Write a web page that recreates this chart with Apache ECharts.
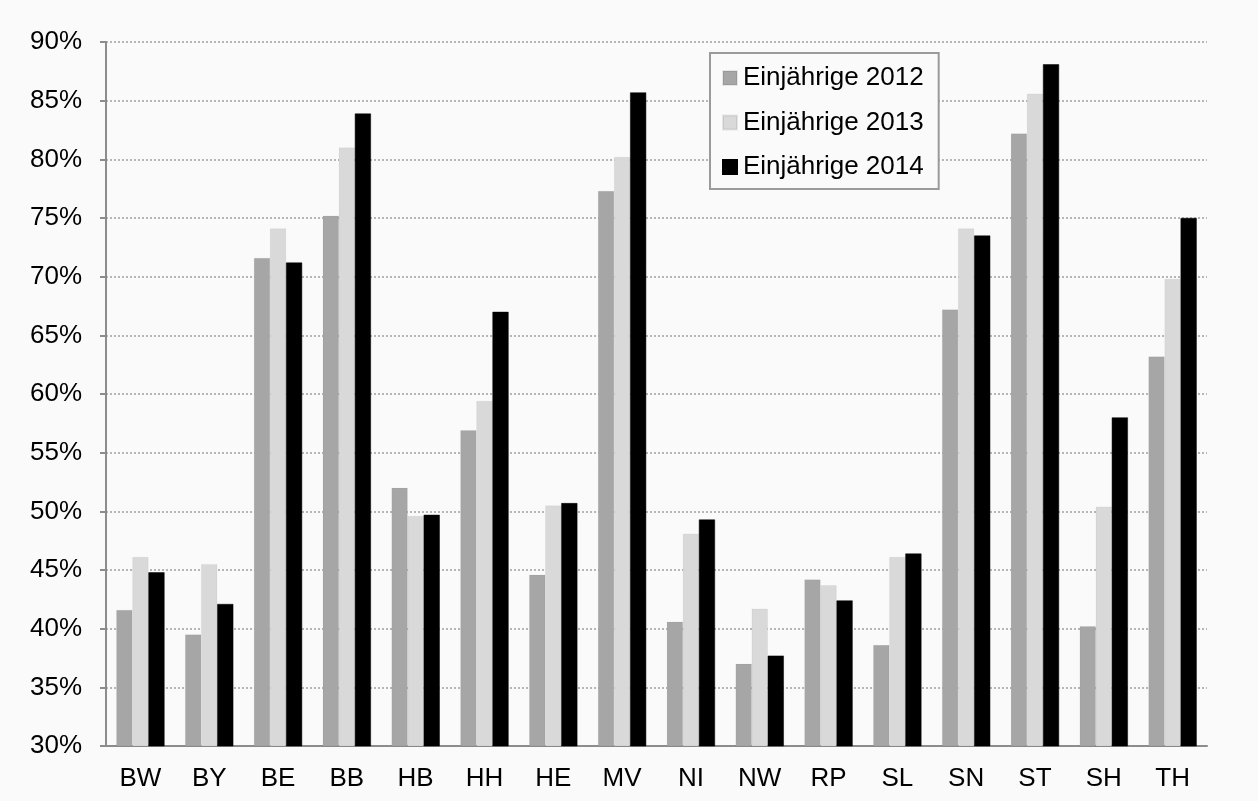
<!DOCTYPE html>
<html>
<head>
<meta charset="utf-8">
<script src="https://cdn.jsdelivr.net/npm/echarts@6/dist/echarts.min.js"></script>
<style>
  html, body { margin: 0; padding: 0; background: #fafafa; }
  #chart { width: 1258px; height: 801px; }
</style>
</head>
<body>
<div id="chart"></div>
<script>
// Bundesländer (Kürzel)
const categories = ['BW', 'BY', 'BE', 'BB', 'HB', 'HH', 'HE', 'MV', 'NI', 'NW', 'RP', 'SL', 'SN', 'ST', 'SH', 'TH'];

// Anteil Einjährige in Prozent
const einj2012 = [41.6, 39.5, 71.6, 75.2, 52.0, 56.9, 44.6, 77.3, 40.6, 37.0, 44.2, 38.6, 67.2, 82.2, 40.2, 63.2];
const einj2013 = [46.1, 45.5, 74.1, 81.0, 49.6, 59.4, 50.5, 80.2, 48.1, 41.7, 43.7, 46.1, 74.1, 85.6, 50.4, 69.8];
const einj2014 = [44.8, 42.1, 71.2, 83.9, 49.7, 67.0, 50.7, 85.7, 49.3, 37.7, 42.4, 46.4, 73.5, 88.1, 58.0, 75.0];

const seriesNames = ['Einjährige 2012', 'Einjährige 2013', 'Einjährige 2014'];
const yTicks = { min: 30, max: 90, step: 5 };

const font = 'Liberation Sans, Arial, Helvetica, sans-serif';
const chart = echarts.init(document.getElementById('chart'), null, { renderer: 'canvas' });

const barStyle = (color) => ({ color: color, borderColor: color === '#000000' ? '#000000' : 'rgba(0,0,0,0.08)', borderWidth: 0.5 });

chart.setOption({
  backgroundColor: '#fafafa',
  animation: false,
  textStyle: { fontFamily: font },
  grid: { left: 106, right: 51, top: 42, bottom: 55, containLabel: false },
  legend: {
    orient: 'vertical',
    left: 710,
    top: 53,
    padding: [12, 15, 9, 12],
    itemGap: 18.5,
    itemWidth: 14,
    itemHeight: 14,
    icon: 'rect',
    borderColor: '#9a9a9a',
    borderWidth: 2,
    backgroundColor: '#fafafa',
    textStyle: { fontSize: 26, color: '#000', fontFamily: font, lineHeight: 26, padding: [0, 0, 0, 1] },
    data: seriesNames
  },
  xAxis: {
    type: 'category',
    data: categories,
    axisLine: { lineStyle: { color: '#8c8c8c', width: 2 } },
    axisTick: { show: false },
    axisLabel: { fontSize: 26, color: '#000', margin: 20, fontFamily: font }
  },
  yAxis: {
    type: 'value',
    min: yTicks.min,
    max: yTicks.max,
    interval: yTicks.step,
    axisLine: { show: true, lineStyle: { color: '#8c8c8c', width: 2 } },
    axisTick: { show: true, length: 6, lineStyle: { color: '#8c8c8c', width: 2 } },
    axisLabel: { fontSize: 26, color: '#000', margin: 24, fontFamily: font, formatter: '{value}%' },
    splitLine: { show: true, lineStyle: { color: '#a0a0a0', width: 1.5, type: [2, 2] } }
  },
  series: [
    { name: seriesNames[0], type: 'bar', data: einj2012, barGap: '0%', barCategoryGap: '30%', itemStyle: barStyle('#a6a6a6') },
    { name: seriesNames[1], type: 'bar', data: einj2013, barGap: '0%', barCategoryGap: '30%', itemStyle: barStyle('#d9d9d9') },
    { name: seriesNames[2], type: 'bar', data: einj2014, barGap: '0%', barCategoryGap: '30%', itemStyle: barStyle('#000000') }
  ]
});
</script>
</body>
</html>
